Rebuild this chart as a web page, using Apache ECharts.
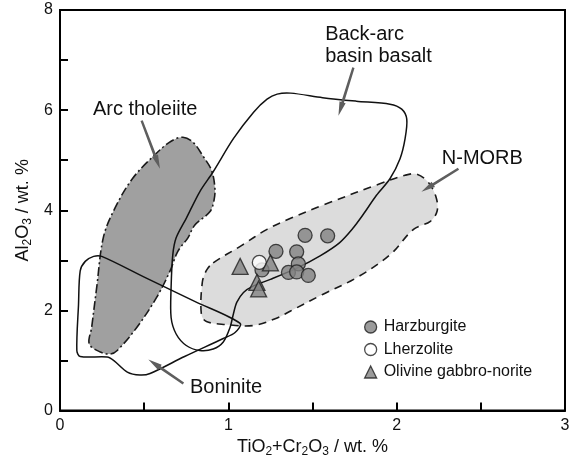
<!DOCTYPE html>
<html>
<head>
<meta charset="utf-8">
<title>TiO2+Cr2O3 vs Al2O3</title>
<script src="https://cdn.jsdelivr.net/npm/echarts@6/dist/echarts.min.js"></script>
<style>
  html, body { margin: 0; padding: 0; background: #fff; }
  #chart { width: 578px; height: 463px; }
</style>
</head>
<body>
<div id="chart"></div>
<script>
// ---- Tectonic discrimination fields (TiO2+Cr2O3, Al2O3 in wt.%) ----
const arcTholeiite = [
  [0.73, 5.46], [0.79, 5.36], [0.85, 5.08], [0.90, 4.80], [0.92, 4.45], [0.915, 4.20],
  [0.89, 3.97], [0.80, 3.70], [0.76, 3.45], [0.70, 3.18], [0.654, 2.79], [0.574, 2.26],
  [0.456, 1.66], [0.34, 1.20], [0.30, 1.13], [0.24, 1.17], [0.174, 1.33], [0.188, 1.66],
  [0.218, 2.46], [0.257, 3.45], [0.32, 4.00], [0.43, 4.63], [0.57, 5.13], [0.66, 5.38]
];

const backArcBasalt = [
  [0.75, 3.84], [0.83, 4.37], [0.91, 4.77], [1.03, 5.43], [1.15, 5.96], [1.23, 6.22],
  [1.29, 6.32], [1.37, 6.34], [1.56, 6.25], [1.76, 6.18], [1.96, 6.12], [2.03, 6.02],
  [2.06, 5.82], [2.05, 5.43], [2.02, 5.03], [1.96, 4.63], [1.88, 4.30], [1.80, 3.91],
  [1.74, 3.64], [1.66, 3.35], [1.545, 3.09], [1.41, 2.85], [1.25, 2.62], [1.15, 2.49],
  [1.09, 2.36], [1.05, 2.16], [1.03, 1.93], [1.01, 1.66], [0.97, 1.37], [0.91, 1.23],
  [0.83, 1.20], [0.75, 1.30], [0.69, 1.53], [0.66, 1.86], [0.66, 2.46], [0.67, 3.11],
  [0.69, 3.45]
];

const boninite = [
  [0.248, 3.08], [0.51, 2.65], [0.80, 2.18], [1.07, 1.74], [1.04, 1.56], [0.97, 1.44],
  [0.74, 1.08], [0.535, 0.74], [0.475, 0.71], [0.40, 0.77], [0.32, 1.00], [0.28, 1.07],
  [0.12, 1.08], [0.10, 1.20], [0.11, 2.12], [0.12, 2.79], [0.15, 2.98], [0.20, 3.08]
];

const nMorb = [
  [0.91, 2.95], [1.08, 3.30], [1.23, 3.62], [1.37, 3.84], [1.56, 4.10], [1.90, 4.53],
  [2.05, 4.70], [2.12, 4.72], [2.19, 4.55], [2.235, 4.25], [2.24, 3.98], [2.20, 3.78],
  [2.10, 3.62], [1.96, 3.11], [1.76, 2.65], [1.56, 2.32], [1.37, 1.99], [1.29, 1.85],
  [1.15, 1.70], [0.98, 1.72], [0.87, 1.78], [0.84, 1.92], [0.845, 2.55], [0.87, 2.80]
];

// ---- Samples ----
const harzburgite = [
  [1.456, 3.50], [1.59, 3.49], [1.283, 3.18], [1.406, 3.17], [1.416, 2.93],
  [1.357, 2.76], [1.406, 2.77], [1.475, 2.70], [1.20, 2.81]
];
const lherzolite = [[1.184, 2.96]];
const olivineGabbroNorite = [[1.07, 2.88], [1.25, 2.95], [1.17, 2.56], [1.18, 2.43]];

// ---- Field names and their leader arrows (tail x, tail y, head x, head y) ----
const fieldNames = ['Arc tholeiite', 'Back-arc\nbasin basalt', 'N-MORB', 'Boninite'];
const fieldNameAnchors = [[0.196, 6.02], [1.575, 7.29], [2.268, 5.03], [0.772, 0.455]];
const leaderArrows = [
  [0.485, 5.79, 0.594, 4.83],
  [1.743, 6.85, 1.654, 5.89],
  [2.367, 4.83, 2.147, 4.37],
  [0.733, 0.54, 0.525, 1.02]
];

const xRange = [0, 3];
const yRange = [0, 8];

const FONT = '"Liberation Sans", Arial, Helvetica, sans-serif';

function fieldSeries(name, pts, style, z, smooth) {
  return {
    type: 'custom',
    name: name,
    coordinateSystem: 'cartesian2d',
    silent: true,
    z: z,
    data: pts,
    encode: { x: 0, y: 1 },
    renderItem: function (params, api) {
      if (params.dataIndex !== 0) return null;
      const points = pts.map(function (p) { return api.coord(p); });
      return { type: 'polygon', shape: { points: points, smooth: smooth }, style: style };
    }
  };
}

// Slim shaft that widens into a long, narrow head
const arrowSeries = {
  type: 'custom',
  coordinateSystem: 'cartesian2d',
  silent: true,
  z: 6,
  data: leaderArrows,
  encode: { x: [0, 2], y: [1, 3] },
  renderItem: function (params, api) {
    const a = api.coord([api.value(0), api.value(1)]);
    const b = api.coord([api.value(2), api.value(3)]);
    const dx = b[0] - a[0], dy = b[1] - a[1];
    const len = Math.sqrt(dx * dx + dy * dy);
    const ux = dx / len, uy = dy / len, nx = -uy, ny = ux;
    const headLen = 14, headHalf = 3.2, bodyHalf = 1.4, tailHalf = 1.2;
    const bx = b[0] - ux * headLen, by = b[1] - uy * headLen;
    return {
      type: 'polygon',
      shape: {
        points: [
          [a[0] + nx * tailHalf, a[1] + ny * tailHalf],
          [bx + nx * bodyHalf, by + ny * bodyHalf],
          [bx + nx * headHalf, by + ny * headHalf],
          [b[0], b[1]],
          [bx - nx * headHalf, by - ny * headHalf],
          [bx - nx * bodyHalf, by - ny * bodyHalf],
          [a[0] - nx * tailHalf, a[1] - ny * tailHalf]
        ]
      },
      style: { fill: '#5e5e5e' }
    };
  }
};

const fieldNameSeries = {
  type: 'custom',
  coordinateSystem: 'cartesian2d',
  silent: true,
  z: 7,
  data: fieldNameAnchors,
  encode: { x: 0, y: 1 },
  renderItem: function (params, api) {
    const p = api.coord([api.value(0), api.value(1)]);
    return {
      type: 'text',
      x: p[0],
      y: p[1],
      style: {
        text: fieldNames[params.dataIndex],
        fill: '#111',
        font: '20px ' + FONT,
        align: 'left',
        verticalAlign: 'middle',
        lineHeight: 22
      }
    };
  }
};

const markerStroke = { borderColor: '#1e1e1e', borderWidth: 1.3 };

const option = {
  animation: false,
  backgroundColor: '#fff',
  textStyle: { fontFamily: FONT },
  grid: {
    left: 60, right: 13, top: 10, bottom: 49,
    show: true, borderColor: '#000', borderWidth: 2, backgroundColor: 'transparent'
  },
  legend: {
    orient: 'vertical',
    left: 364,
    top: 319,
    padding: 0,
    itemGap: 6.5,
    itemWidth: 12,
    itemHeight: 12,
    itemStyle: { borderWidth: 1.3 },
    textStyle: { fontSize: 16, color: '#111', fontFamily: FONT, padding: [0, 0, 0, 2] },
    data: [
      { name: 'Harzburgite', icon: 'circle' },
      { name: 'Lherzolite', icon: 'circle' },
      { name: 'Olivine gabbro-norite', icon: 'triangle' }
    ]
  },
  xAxis: {
    type: 'value',
    min: xRange[0], max: xRange[1], interval: 0.5,
    name: '{n|TiO}{s|2}{n|+Cr}{s|2}{n|O}{s|3}{n| / wt. %}',
    nameLocation: 'middle',
    nameGap: 24,
    nameTextStyle: {
      rich: {
        n: { fontSize: 18, color: '#111', fontFamily: FONT },
        s: { fontSize: 12, color: '#111', fontFamily: FONT, padding: [9, 0, 0, 0] }
      }
    },
    axisLine: { onZero: false, lineStyle: { color: '#000', width: 2 } },
    axisTick: { inside: true, length: 8, lineStyle: { color: '#000', width: 2 } },
    axisLabel: {
      fontSize: 16, color: '#111', margin: 7,
      formatter: function (v) { return Number.isInteger(v) ? String(v) : ''; }
    },
    splitLine: { show: false }
  },
  yAxis: {
    type: 'value',
    min: yRange[0], max: yRange[1], interval: 1,
    name: '{n|Al}{s|2}{n|O}{s|3}{n| / wt. %}',
    nameLocation: 'middle',
    nameRotate: 90,
    nameGap: 26,
    nameTextStyle: {
      rich: {
        n: { fontSize: 18, color: '#111', fontFamily: FONT },
        s: { fontSize: 12, color: '#111', fontFamily: FONT, padding: [9, 0, 0, 0] }
      }
    },
    axisLine: { onZero: false, lineStyle: { color: '#000', width: 2 } },
    axisTick: { inside: true, length: 8, lineStyle: { color: '#000', width: 2 } },
    axisLabel: {
      fontSize: 16, color: '#111', margin: 7,
      formatter: function (v) { return v % 2 === 0 ? String(v) : ''; }
    },
    splitLine: { show: false }
  },
  series: [
    fieldSeries('N-MORB field', nMorb,
      { fill: '#dcdcdc', stroke: '#1a1a1a', lineWidth: 1.6, lineDash: [8, 6] }, 1, 0.35),
    fieldSeries('Arc tholeiite field', arcTholeiite,
      { fill: '#a0a0a0', stroke: '#1a1a1a', lineWidth: 1.6, lineDash: [9, 3, 2, 3] }, 2, 0.35),
    fieldSeries('Back-arc basin basalt field', backArcBasalt,
      { fill: 'none', stroke: '#111', lineWidth: 1.5 }, 3, 0.3),
    fieldSeries('Boninite field', boninite,
      { fill: 'none', stroke: '#111', lineWidth: 1.5 }, 3, 0.3),
    arrowSeries,
    fieldNameSeries,
    {
      name: 'Harzburgite', type: 'scatter', z: 10,
      symbol: 'circle', symbolSize: 14,
      itemStyle: Object.assign({ color: '#828282' }, markerStroke),
      data: harzburgite
    },
    {
      name: 'Lherzolite', type: 'scatter', z: 11,
      symbol: 'circle', symbolSize: 14,
      itemStyle: Object.assign({ color: '#ffffff' }, markerStroke),
      data: lherzolite
    },
    {
      name: 'Olivine gabbro-norite', type: 'scatter', z: 12,
      symbol: 'triangle', symbolSize: 16,
      itemStyle: Object.assign({ color: '#828282' }, markerStroke),
      data: olivineGabbroNorite
    }
  ]
};

const chart = echarts.init(document.getElementById('chart'), null, { renderer: 'canvas' });
chart.setOption(option);
</script>
</body>
</html>
